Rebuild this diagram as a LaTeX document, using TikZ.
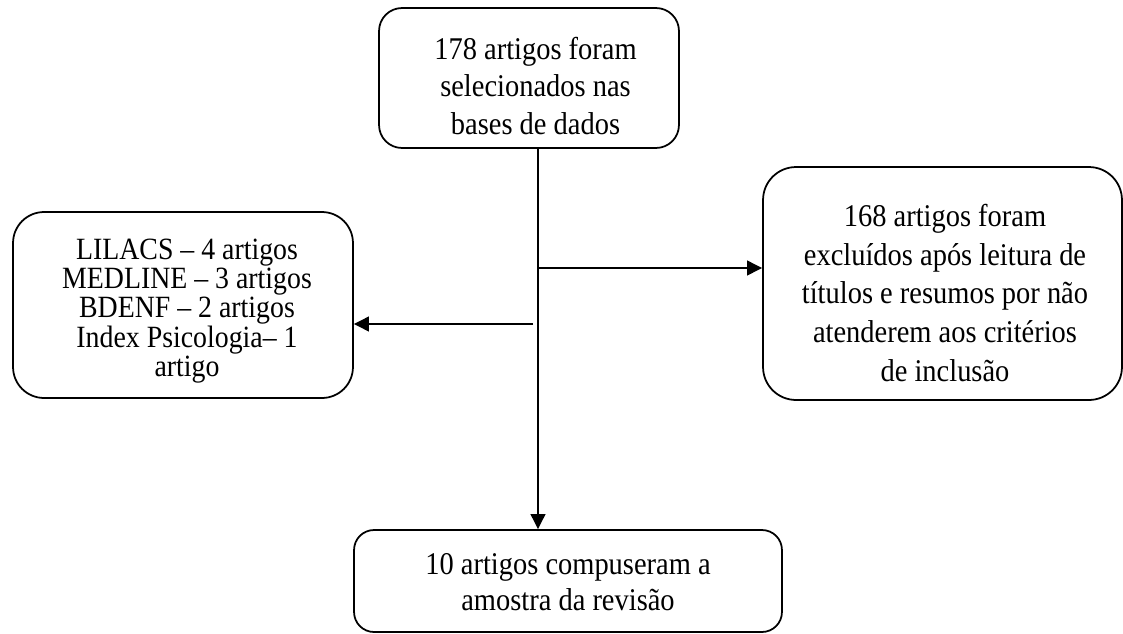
\documentclass[tikz,border=0pt]{standalone}
\usepackage{fontspec}
\setmainfont{Liberation Serif}[FakeStretch=0.9]
\usetikzlibrary{arrows.meta}
\begin{document}
\begin{tikzpicture}[x=0.02cm, y=-0.02cm,
    box/.style={draw=black, line width=1pt, inner sep=0pt},
    txt/.style={align=center, inner sep=0pt, font=\fontsize{18pt}{21.4pt}\selectfont},
    arr/.style={line width=1.4pt, -{Triangle[length=0.3cm, width=0.29cm]}}]

    \useasboundingbox (0,0) rectangle (1123,633);

    % boxes
    \node[box, rounded corners=0.46cm, minimum width=6cm, minimum height=2.8cm] (sel) at (529,78) {};
    \node[box, rounded corners=0.66cm, minimum width=7.18cm, minimum height=4.66cm] (exc) at (942.5,283.5) {};
    \node[box, rounded corners=0.62cm, minimum width=6.8cm, minimum height=3.72cm] (bases) at (183,305) {};
    \node[box, rounded corners=0.4cm, minimum width=8.56cm, minimum height=2.04cm] (res) at (568,581) {};

    % texts
    \node[txt] (seltxt) at (535.5,86) {178 artigos foram\\selecionados nas\\bases de dados};
    \node[txt, font=\fontsize{18pt}{22pt}\selectfont] (exctxt) at (945,293)
        {168 artigos foram\\excluídos após leitura de\\títulos e resumos por não\\atenderem aos critérios\\de inclusão};
    \node[txt, font=\fontsize{17.6pt}{16.6pt}\selectfont] (basestxt) at (187,311)
        {LILACS – 4 artigos\\MEDLINE – 3 artigos\\BDENF – 2 artigos\\Index Psicologia– 1\\artigo};
    \node[txt, font=\fontsize{18pt}{20.8pt}\selectfont] (restxt) at (568,582)
        {10 artigos compuseram a\\amostra da revisão};

    \coordinate (spine) at (538,0);
    \coordinate (r) at (538,268);
    \coordinate (l) at (533,324);

    \draw[arr] (spine |- sel.south) -- (spine |- res.north);
    \draw[arr] (r) -- (r -| exc.west);
    \draw[arr] (l) -- (l -| bases.east);

\end{tikzpicture}
\end{document}
